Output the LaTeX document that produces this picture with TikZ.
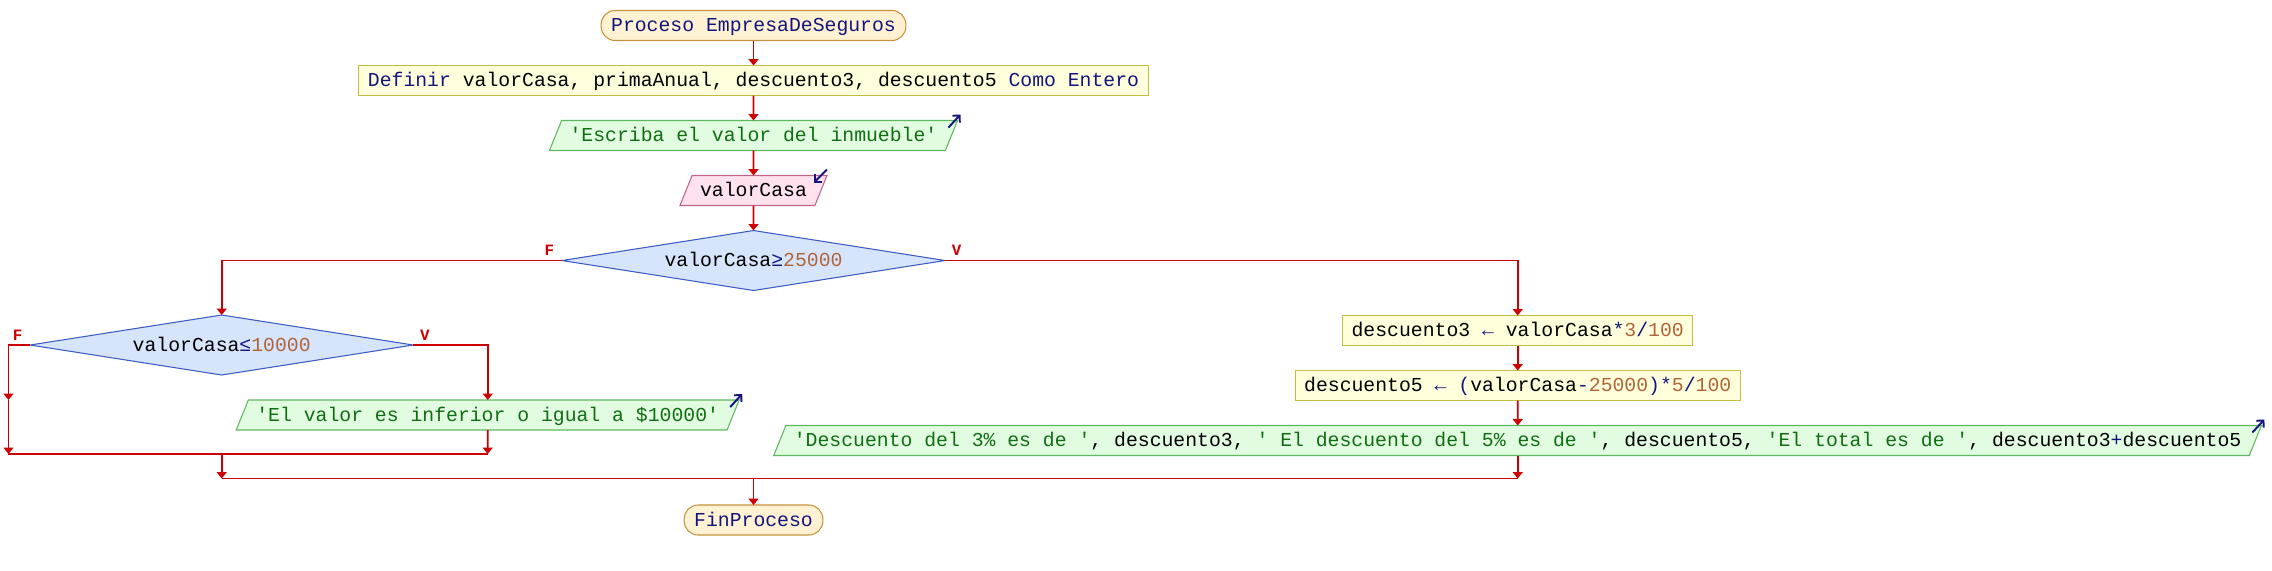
\documentclass[tikz,border=0pt]{standalone}
\usepackage{fontspec}
\usepackage{tikz}
\usetikzlibrary{positioning}
\usetikzlibrary{shapes.misc,shapes.geometric}
\usetikzlibrary{arrows.meta}
\newfontfamily\codefont{Liberation Mono}

\definecolor{flowRed}{HTML}{CC0000}
\definecolor{kwBlue}{HTML}{14147F}
\definecolor{numBrown}{HTML}{B0643A}
\definecolor{strGreen}{HTML}{0F6E0F}
\definecolor{termFill}{HTML}{FFF2D2}
\definecolor{termLine}{HTML}{C8913C}
\definecolor{procFill}{HTML}{FFFFDC}
\definecolor{procLine}{HTML}{C4BE40}
\definecolor{outFill}{HTML}{E2FCE2}
\definecolor{outLine}{HTML}{5EB95E}
\definecolor{inFill}{HTML}{FFE2EE}
\definecolor{inLine}{HTML}{C0648C}
\definecolor{condFill}{HTML}{D6E4FC}
\definecolor{condLine}{HTML}{3A5CC4}

\newcommand{\kwd}[1]{\textcolor{kwBlue}{#1}}
\newcommand{\nmb}[1]{\textcolor{numBrown}{#1}}
\newcommand{\strg}[1]{\textcolor{strGreen}{#1}}

\tikzset{
    chartnode/.style={draw, line width=0.6pt, outer sep=0pt, font=\codefont\fontsize{11.25pt}{13pt}\selectfont,
        text height=0.32cm, text depth=0.07cm},
    terminal/.style={chartnode, rectangle, rounded corners=0.28cm, minimum height=0.6cm,
        inner ysep=0.05cm, inner xsep=0.2cm, fill=termFill, draw=termLine},
    process/.style={chartnode, rectangle, minimum height=0.6cm, inner ysep=0.05cm,
        inner xsep=0.18cm, fill=procFill, draw=procLine},
    output/.style={chartnode, trapezium, trapezium left angle=68, trapezium right angle=112,
        inner ysep=0.105cm, inner xsep=0.16cm, fill=outFill, draw=outLine},
    input/.style={output, fill=inFill, draw=inLine},
    decision/.style={chartnode, diamond, aspect=6, inner sep=0pt, minimum width=7.66cm,
        minimum height=1.2cm, fill=condFill, draw=condLine},
    flow/.style={draw=flowRed, line width=1.1pt, -{Triangle[length=0.13cm, width=0.2cm]}},
    flowline/.style={draw=flowRed, line width=1.1pt},
    branchlabel/.style={text=flowRed, inner sep=0pt,
        font=\codefont\bfseries\fontsize{9pt}{10pt}\selectfont},
    ioarrow/.style={draw=kwBlue, line width=1.1pt, -{Straight Barb[length=0.1cm]}},
}

\begin{document}
\begin{tikzpicture}
    \useasboundingbox (0,0) rectangle (45.44,-11.4);

    %Nodes
    \node[terminal] (Proceso) at (15.07,-0.51) {\kwd{Proceso EmpresaDeSeguros}};
    \node[process, below = 0.5cm of Proceso] (Definir) {\kwd{Definir} valorCasa, primaAnual, descuento3, descuento5 \kwd{Como Entero}};
    \node[output, below = 0.5cm of Definir] (Escriba) {\strg{'Escriba el valor del inmueble'}};
    \node[input, below = 0.5cm of Escriba] (Leer) {valorCasa};
    \node[decision, below = 0.5cm of Leer] (Cond1) {valorCasa\kwd{≥}\nmb{25000}};

    %F branch
    \node[decision, on grid, below left = 1.69cm and 10.636cm of Cond1] (Cond2) {valorCasa\kwd{≤}\nmb{10000}};
    \node[output, on grid, below right = 1.4cm and 5.32cm of Cond2] (Salida1) {\strg{'El valor es inferior o igual a \$10000'}};

    %V branch
    \node[process, on grid, below right = 1.4cm and 15.284cm of Cond1] (Desc3) {descuento3 \kwd{←} valorCasa\kwd{*}\nmb{3}\kwd{/}\nmb{100}};
    \node[process, below = 0.5cm of Desc3] (Desc5) {descuento5 \kwd{← (}valorCasa\kwd{-}\nmb{25000}\kwd{)*}\nmb{5}\kwd{/}\nmb{100}};
    \node[output, below = 0.5cm of Desc5] (Salida2) {\strg{'Descuento del 3\% es de '}, descuento3, \strg{' El descuento del 5\% es de '}, descuento5, \strg{'El total es de '}, descuento3\kwd{+}descuento5};

    %Joins
    \coordinate[left = 0.434cm of Cond2.west] (FTop);
    \coordinate (FMid) at (FTop |- Salida1.north);
    \coordinate[below = 1.08cm of FMid] (JoinL);
    \coordinate (JoinR) at (Salida1 |- JoinL);
    \coordinate (JoinMid) at (Cond2 |- JoinL);
    \coordinate[below = 0.49cm of JoinMid] (MainL);
    \coordinate (MainR) at (Desc3 |- MainL);
    \coordinate (MainMid) at (Proceso |- MainL);

    \node[terminal, below = 0.53cm of MainMid] (Fin) {\kwd{FinProceso}};

    %-------------------------------------------
    %Connectors
    \draw[flow] (Proceso) -- (Definir);
    \draw[flow] (Definir) -- (Escriba);
    \draw[flow] (Escriba) -- (Leer);
    \draw[flow] (Leer) -- (Cond1);
    \draw[flow] (Cond1.west) -| (Cond2.north);
    \draw[flow] (Cond1.east) -| (Desc3.north);
    \draw[flow] (Cond2.east) -| (Salida1.north);
    \draw[flow] (Cond2.west) -- (FTop) -- (FMid);
    \draw[flow] (FMid) -- (JoinL);
    \draw[flow] (Salida1.south) -- (JoinR);
    \draw[flowline] (JoinL) -- (JoinR);
    \draw[flow] (JoinMid) -- (MainL);
    \draw[flow] (Desc3) -- (Desc5);
    \draw[flow] (Desc5) -- (Salida2);
    \draw[flow] (Salida2.south) -- (MainR);
    \draw[flowline] (MainL) -- (MainR);
    \draw[flow] (MainMid) -- (Fin);

    %In/out marks
    \draw[ioarrow] ([shift={(-0.18cm,-0.14cm)}]Escriba.top right corner) -- ++(0.24cm,0.26cm);
    \draw[ioarrow] ([shift={(0cm,0.12cm)}]Leer.top right corner) -- ++(-0.26cm,-0.26cm);
    \draw[ioarrow] ([shift={(-0.18cm,-0.14cm)}]Salida1.top right corner) -- ++(0.24cm,0.26cm);
    \draw[ioarrow] ([shift={(-0.18cm,-0.14cm)}]Salida2.top right corner) -- ++(0.24cm,0.26cm);

    %Labels
    \node[branchlabel, above left = 0.09cm and 0.15cm of Cond1.west] (Cond1F) {F};
    \node[branchlabel, above right = 0.09cm and 0.13cm of Cond1.east] (Cond1V) {V};
    \node[branchlabel, above left = 0.09cm and 0.15cm of Cond2.west] (Cond2F) {F};
    \node[branchlabel, above right = 0.09cm and 0.13cm of Cond2.east] (Cond2V) {V};

\end{tikzpicture}
\end{document}
